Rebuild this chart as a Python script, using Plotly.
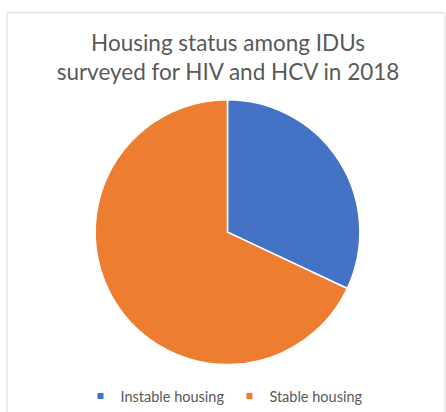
import plotly.graph_objects as go

# Housing status of surveyed IDUs (share of respondents, %)
categories = ["Instable housing", "Stable housing"]
shares = [32, 68]
colors = ["#4472C4", "#ED7D31"]

title_text = "Housing status among IDUs<br>surveyed for HIV and HCV in 2018"

W, H = 446, 412
cx, cy, r = 227.5, 235, 134  # pie centre and radius in pixels

fig = go.Figure()

fig.add_trace(go.Pie(
    labels=categories,
    values=shares,
    marker=dict(colors=colors, line=dict(color="white", width=1.5)),
    sort=False,
    direction="clockwise",
    rotation=0,
    textinfo="none",
    hoverinfo="label+percent",
    showlegend=False,
    domain=dict(x=[(cx - r) / W, (cx + r) / W],
                y=[1 - (cy + r) / H, 1 - (cy - r) / H]),
))

# legend entries with small square swatches
for name, col in zip(categories, colors):
    fig.add_trace(go.Scatter(
        x=[None], y=[None], mode="markers", name=name,
        marker=dict(symbol="square", size=6, color=col),
    ))

# light chart-area frame
fig.add_shape(type="rect", xref="paper", yref="paper",
              x0=7 / W, x1=445 / W, y0=-0.05, y1=1 - 13 / H,
              line=dict(color="#D9D9D9", width=1), fillcolor="rgba(0,0,0,0)",
              layer="below")

fig.update_layout(
    width=W, height=H,
    margin=dict(l=0, r=0, t=0, b=0),
    paper_bgcolor="white", plot_bgcolor="white",
    xaxis=dict(visible=False), yaxis=dict(visible=False),
    title=dict(text=title_text, x=228 / W, xanchor="center",
               y=1 - 51 / H, yanchor="middle",
               font=dict(family="Lato", size=22.5, color="#595959")),
    legend=dict(orientation="h", x=224 / W, xanchor="center",
                y=1 - 401 / H, yanchor="middle",
                font=dict(family="Lato", size=14.5, color="#595959"),
                bgcolor="rgba(0,0,0,0)"),
)

fig.write_html("out.html")
